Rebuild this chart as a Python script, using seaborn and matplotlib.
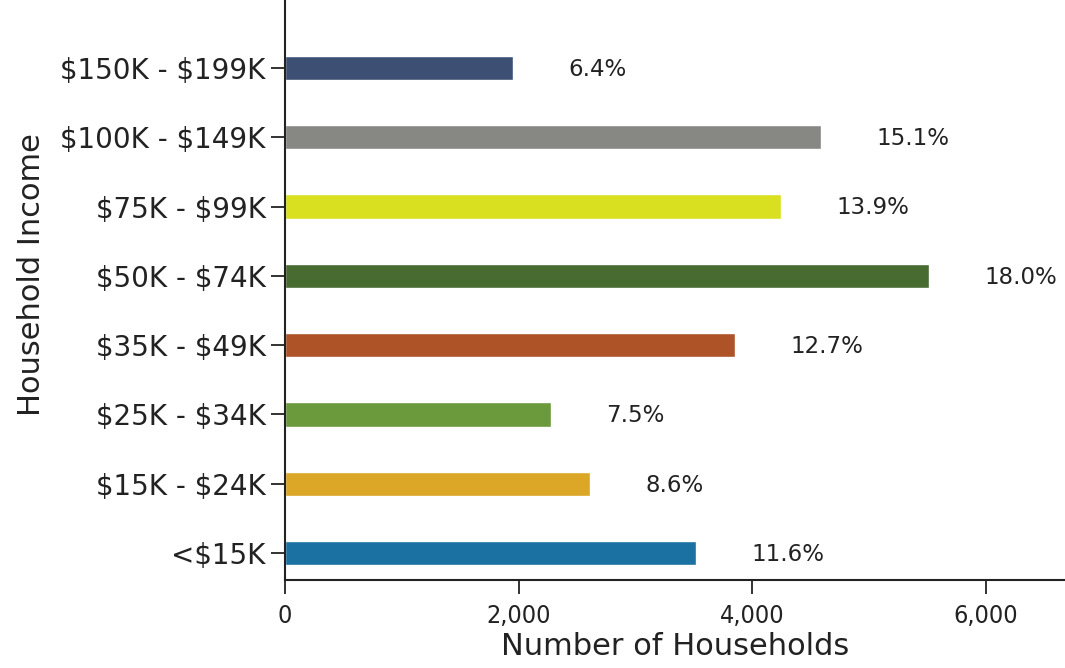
import matplotlib
matplotlib.use("Agg")
import matplotlib.pyplot as plt
import seaborn as sns
import pandas as pd

categories = ["$150K - $199K", "$100K - $149K", "$75K - $99K", "$50K - $74K",
              "$35K - $49K", "$25K - $34K", "$15K - $24K", "<$15K"]
households = [1950, 4590, 4245, 5510, 3850, 2275, 2610, 3515]
percents = [6.4, 15.1, 13.9, 18.0, 12.7, 7.5, 8.6, 11.6]
colors = ["#3d5074", "#878783", "#d9e020", "#476b31",
          "#ae5327", "#6b9a3d", "#dca626", "#1a71a2"]
xticks = [0, 2000, 4000, 6000]
xtick_labels = ["0", "2,000", "4,000", "6,000"]

sns.set_theme(style="white")
plt.rcParams['font.family'] = ['DejaVu Sans']
plt.rcParams['text.parse_math'] = False

df = pd.DataFrame({"Household Income": categories, "Households": households})

fig = plt.figure(figsize=(10.65, 6.68), dpi=100)
ax = fig.add_axes([0.2676, 0.1317, 0.7324, 0.9132])

sns.barplot(data=df, x="Households", y="Household Income", hue="Household Income",
            palette=colors, order=categories, hue_order=categories,
            width=0.35, legend=False, orient="h", ax=ax, saturation=1)

for i, (v, p) in enumerate(zip(households, percents)):
    ax.annotate(f"{p:.1f}%", xy=(v, i), xytext=(40, -1), textcoords="offset points",
                va="center", ha="left", fontsize=16.5, color="#222222")

ax.set_xlim(0, 6675)
ax.set_ylim(7.39, -1.414)
ax.set_xticks(xticks)
ax.set_xticklabels(xtick_labels, fontsize=18, color="#222222")
for t in ax.get_xticklabels():
    t.set_fontstretch("condensed")
ax.tick_params(axis="y", labelsize=20, labelcolor="#222222", length=10, width=1.3,
               color="#222222", left=True, pad=4)
ax.tick_params(axis="x", length=10, width=1.3, color="#222222", bottom=True, pad=7)

for s in ["top", "right"]:
    ax.spines[s].set_visible(False)
for s in ["left", "bottom"]:
    ax.spines[s].set_color("#222222")
    ax.spines[s].set_linewidth(1.5)

ax.set_xlabel("Number of Households", fontsize=22, color="#222222", labelpad=3)
ax.set_ylabel("Household Income", fontsize=22, color="#222222", labelpad=10)

fig.savefig("out.png", dpi=100)
